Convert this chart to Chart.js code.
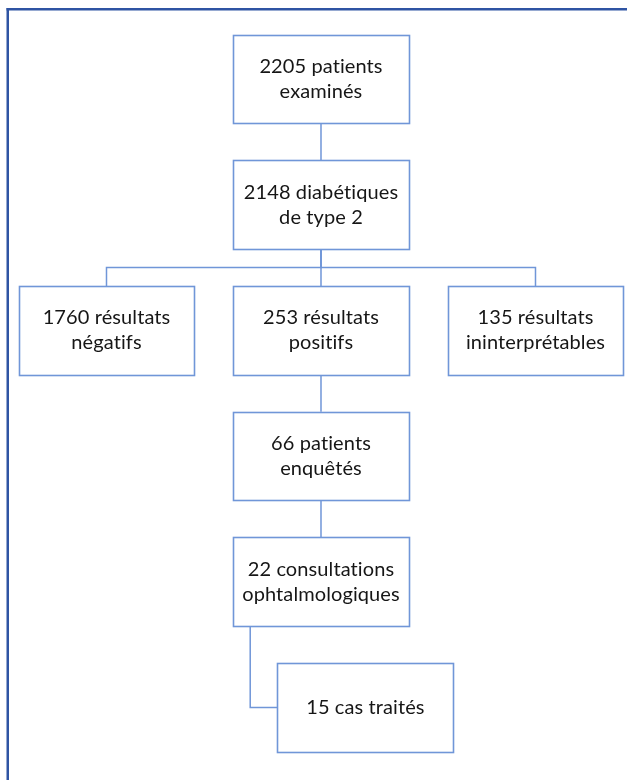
<!DOCTYPE html>
<html lang="fr">
<head>
<meta charset="utf-8">
<title>Parcours des patients</title>
<script src="https://cdn.jsdelivr.net/npm/chart.js@4.4.1/dist/chart.umd.min.js"></script>
<style>
  html, body { margin: 0; padding: 0; background: #fff; }
  #wrap { width: 627px; height: 780px; }
</style>
</head>
<body>
<div id="wrap"><canvas id="flowChart" width="627" height="780"></canvas></div>
<script>
// effectifs à chaque étape
const counts = [2205, 2148, 1760, 253, 135, 66, 22, 15];
const firstWords = ["patients", "diabétiques", "résultats", "résultats", "résultats", "patients", "consultations", "cas traités"];
const secondLines = ["examinés", "de type 2", "négatifs", "positifs", "ininterprétables", "enquêtés", "ophtalmologiques", ""];
// étape parente (-1 = racine) et type de lien
const parents = [-1, 0, 1, 1, 1, 3, 5, 6];
const linkTypes = ["", "straight", "branch", "branch", "branch", "straight", "straight", "elbow"];

// layout (in scale units: 1 column / 1 level)
const BOX_W = 0.82;
const BOX_H = 0.705;
const ELBOW_SHIFT = 0.207;
const ELBOW_DROP = -0.33;
const LINE_COLOR = "#7096d8";

const levels = [];
const columns = [];
parents.forEach((p, i) => {
  if (p < 0) {
    levels[i] = 0;
    columns[i] = 0;
    return;
  }
  levels[i] = levels[p] + 1;
  const siblings = parents.map((q, j) => (q === p ? j : -1)).filter((j) => j >= 0);
  if (siblings.length > 1) {
    columns[i] = columns[p] + siblings.indexOf(i) - (siblings.length - 1) / 2;
  } else {
    columns[i] = columns[p] + (linkTypes[i] === "elbow" ? ELBOW_SHIFT : 0);
  }
});

// connector lines from the tree
const links = [];
parents.forEach((p, i) => {
  if (p < 0) return;
  const pc = columns[p], pl = levels[p], c = columns[i], l = levels[i];
  let pts;
  if (linkTypes[i] === "branch") {
    const mid = (pl + l) / 2;
    pts = [{ x: pc, y: pl + BOX_H / 2 }, { x: pc, y: mid }, { x: c, y: mid }, { x: c, y: l - BOX_H / 2 }];
  } else if (linkTypes[i] === "elbow") {
    pts = [{ x: pc + ELBOW_DROP, y: pl + BOX_H / 2 }, { x: pc + ELBOW_DROP, y: l }, { x: c - BOX_W / 2, y: l }];
  } else {
    pts = [{ x: pc, y: pl + BOX_H / 2 }, { x: c, y: l - BOX_H / 2 }];
  }
  links.push({
    type: "line",
    data: pts,
    showLine: true,
    borderColor: LINE_COLOR,
    borderWidth: 1.5,
    pointRadius: 0,
    tension: 0,
    fill: false,
    order: 2,
  });
});

const framePlugin = {
  id: "frame",
  beforeDraw(chart) {
    const ctx = chart.ctx;
    ctx.save();
    ctx.fillStyle = "#fff";
    ctx.fillRect(0, 0, chart.width, chart.height);
    ctx.fillStyle = "#2f54a3";
    ctx.fillRect(6.5, 8, 2.5, chart.height);
    ctx.fillRect(6.5, 8, chart.width, 2.5);
    ctx.restore();
  },
};

const boxPlugin = {
  id: "boxes",
  afterDatasetsDraw(chart) {
    const ctx = chart.ctx;
    const xs = chart.scales.x, ys = chart.scales.y;
    const meta = chart.getDatasetMeta(0);
    ctx.save();
    meta.data.forEach((pt, i) => {
      const col = columns[i], lev = levels[i];
      const left = Math.round(xs.getPixelForValue(col - BOX_W / 2)) + 0.5;
      const right = Math.round(xs.getPixelForValue(col + BOX_W / 2)) + 0.5;
      const top = Math.round(ys.getPixelForValue(lev - BOX_H / 2)) + 0.5;
      const bottom = Math.round(ys.getPixelForValue(lev + BOX_H / 2)) + 0.5;
      ctx.fillStyle = "#fff";
      ctx.fillRect(left, top, right - left, bottom - top);
      ctx.strokeStyle = LINE_COLOR;
      ctx.lineWidth = 1.6;
      ctx.strokeRect(left, top, right - left, bottom - top);

      ctx.fillStyle = "#161616";
      ctx.font = "20px Lato";
      ctx.letterSpacing = "0.1px"; // keeps "ti" from turning into a ligature
      ctx.textAlign = "center";
      ctx.textBaseline = "middle";
      const first = counts[i] + " " + firstWords[i];
      if (secondLines[i]) {
        ctx.fillText(first, pt.x, pt.y - 12.5);
        ctx.fillText(secondLines[i], pt.x, pt.y + 12.5);
      } else {
        ctx.fillText(first, pt.x, pt.y);
      }
    });
    ctx.restore();
  },
};

new Chart(document.getElementById("flowChart"), {
  type: "scatter",
  data: {
    datasets: [
      {
        label: "étapes",
        data: counts.map((v, i) => ({ x: columns[i], y: levels[i], n: v })),
        pointRadius: 0,
        order: 1,
      },
      ...links,
    ],
  },
  options: {
    responsive: false,
    animation: false,
    layout: { padding: 0 },
    scales: {
      x: { type: "linear", min: -1.4965, max: 1.4266, display: false },
      y: { type: "linear", reverse: true, min: -0.6285, max: 5.5768, display: false },
    },
    plugins: {
      legend: { display: false },
      tooltip: { enabled: false },
    },
  },
  plugins: [framePlugin, boxPlugin],
});
</script>
</body>
</html>
